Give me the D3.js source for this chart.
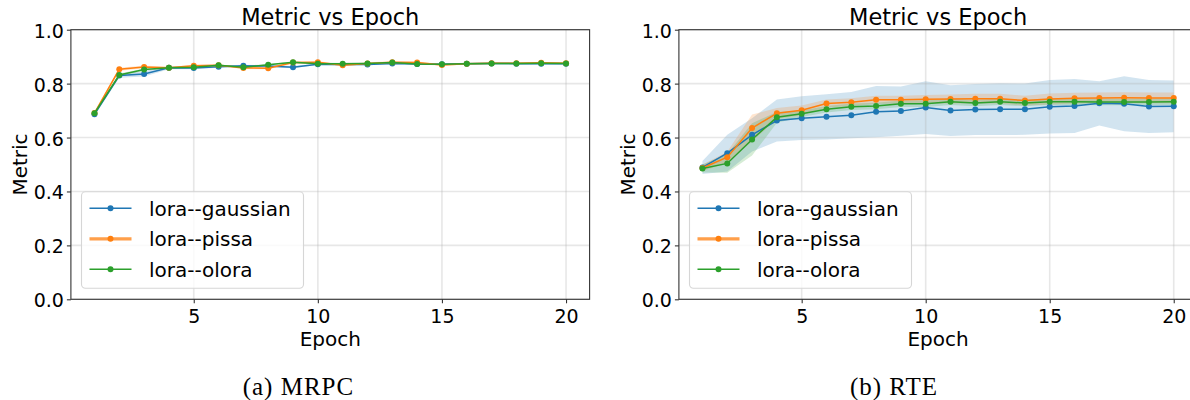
<!doctype html>
<html lang="en">
<head>
<meta charset="utf-8">
<title>Metric vs Epoch</title>
<script src="https://d3js.org/d3.v7.min.js"></script>
<style>
    body { margin: 0; background: #fff; }
    svg text { font-family: "DejaVu Sans", sans-serif; fill: #000; }
</style>
</head>
<body>
<script>
    // Shared values
    const epochs  = [1, 2, 3, 4, 5, 6, 7, 8, 9, 10, 11, 12, 13, 14, 15, 16, 17, 18, 19, 20];
    const xTicks  = [5, 10, 15, 20];
    const yTicks  = [0.0, 0.2, 0.4, 0.6, 0.8, 1.0];
    const methods = ["lora--gaussian", "lora--pissa", "lora--olora"];
    const colors  = ["#1f77b4", "#ff7f0e", "#2ca02c"];

    // (a) MRPC - mean and std per epoch
    const mrpcGaussian    = [0.686, 0.830, 0.836, 0.859, 0.858, 0.863, 0.866, 0.865, 0.861, 0.872, 0.871, 0.871, 0.875, 0.873, 0.872, 0.874, 0.875, 0.874, 0.874, 0.874];
    const mrpcPissa       = [0.691, 0.853, 0.862, 0.859, 0.866, 0.868, 0.858, 0.857, 0.878, 0.879, 0.868, 0.875, 0.879, 0.878, 0.869, 0.874, 0.876, 0.876, 0.877, 0.876];
    const mrpcOlora       = [0.690, 0.832, 0.852, 0.859, 0.861, 0.868, 0.861, 0.870, 0.879, 0.874, 0.874, 0.875, 0.878, 0.873, 0.872, 0.874, 0.875, 0.875, 0.876, 0.875];
    const mrpcGaussianStd = [0.004, 0.008, 0.010, 0.006, 0.005, 0.004, 0.004, 0.004, 0.004, 0.003, 0.003, 0.003, 0.003, 0.003, 0.003, 0.003, 0.003, 0.003, 0.003, 0.003];
    const mrpcPissaStd    = [0.004, 0.006, 0.005, 0.003, 0.004, 0.004, 0.004, 0.004, 0.004, 0.004, 0.004, 0.004, 0.004, 0.004, 0.004, 0.003, 0.003, 0.003, 0.003, 0.003];
    const mrpcOloraStd    = [0.003, 0.006, 0.004, 0.003, 0.003, 0.003, 0.003, 0.003, 0.003, 0.003, 0.003, 0.003, 0.003, 0.003, 0.003, 0.003, 0.003, 0.003, 0.003, 0.003];

    // (b) RTE - mean and std per epoch
    const rteGaussian    = [0.489, 0.542, 0.610, 0.663, 0.672, 0.677, 0.683, 0.696, 0.698, 0.711, 0.700, 0.704, 0.705, 0.705, 0.714, 0.717, 0.727, 0.725, 0.715, 0.716];
    const rtePissa       = [0.487, 0.527, 0.635, 0.690, 0.701, 0.726, 0.731, 0.740, 0.740, 0.742, 0.743, 0.744, 0.744, 0.737, 0.743, 0.746, 0.747, 0.748, 0.747, 0.747];
    const rteOlora       = [0.485, 0.504, 0.593, 0.675, 0.688, 0.705, 0.714, 0.717, 0.725, 0.725, 0.733, 0.728, 0.733, 0.728, 0.733, 0.733, 0.732, 0.732, 0.732, 0.733];
    const rteGaussianStd = [0.024, 0.068, 0.062, 0.078, 0.081, 0.084, 0.086, 0.095, 0.091, 0.098, 0.094, 0.095, 0.096, 0.095, 0.099, 0.100, 0.082, 0.102, 0.098, 0.096];
    const rtePissaStd    = [0.012, 0.020, 0.050, 0.020, 0.018, 0.015, 0.015, 0.015, 0.015, 0.016, 0.017, 0.018, 0.018, 0.018, 0.020, 0.020, 0.020, 0.020, 0.020, 0.020];
    const rteOloraStd    = [0.015, 0.035, 0.060, 0.020, 0.012, 0.012, 0.012, 0.012, 0.012, 0.012, 0.012, 0.012, 0.012, 0.012, 0.012, 0.012, 0.012, 0.012, 0.012, 0.012];

    const svg = d3.select("body").append("svg")
        .attr("width", 1190)
        .attr("height", 400);

    const yTop = 29.7, yBottom = 299.3;

    function drawPanel(left, right, means, stds, caption, captionX)
    {
        const x = d3.scaleLinear().domain([0.05, 20.95]).range([left, right]);
        const y = d3.scaleLinear().domain([0, 1]).range([yBottom, yTop]);
        const g = svg.append("g");

        const series = methods.map((name, i) => ({
            name: name, color: colors[i],
            pts: epochs.map((e, j) => ({ e: e, m: means[i][j], s: stds[i][j] }))
        }));

        // std bands (below everything else)
        series.forEach(s => {
            g.append("path")
                .datum(s.pts)
                .attr("fill", s.color)
                .attr("fill-opacity", 0.2)
                .attr("d", d3.area()
                    .x(d => x(d.e))
                    .y0(d => y(d.m - d.s))
                    .y1(d => y(d.m + d.s)));
        });

        // grid
        g.selectAll(null).data(xTicks).enter().append("line")
            .attr("x1", d => x(d)).attr("x2", d => x(d))
            .attr("y1", yTop).attr("y2", yBottom)
            .attr("stroke", "#b0b0b0").attr("stroke-opacity", 0.3).attr("stroke-width", 1.6);
        g.selectAll(null).data(yTicks).enter().append("line")
            .attr("x1", left).attr("x2", right)
            .attr("y1", d => y(d)).attr("y2", d => y(d))
            .attr("stroke", "#b0b0b0").attr("stroke-opacity", 0.3).attr("stroke-width", 1.6);

        // lines + markers
        series.forEach(s => {
            g.append("path")
                .datum(s.pts)
                .attr("fill", "none")
                .attr("stroke", s.color)
                .attr("stroke-width", 1.5)
                .attr("d", d3.line().x(d => x(d.e)).y(d => y(d.m)));
            g.selectAll(null).data(s.pts).enter().append("circle")
                .attr("cx", d => x(d.e))
                .attr("cy", d => y(d.m))
                .attr("r", 3)
                .attr("fill", s.color);
        });

        // axes
        const xAxis = g.append("g")
            .attr("transform", `translate(0,${yBottom})`)
            .call(d3.axisBottom(x).tickValues(xTicks).tickSize(4).tickFormat(d3.format("d")));
        xAxis.selectAll("text").attr("y", 23.4).attr("dy", 0).style("font-size", "19px");

        const yAxis = g.append("g")
            .attr("transform", `translate(${left},0)`)
            .call(d3.axisLeft(y).tickValues(yTicks).tickSize(4).tickPadding(3).tickFormat(d3.format(".1f")));
        yAxis.selectAll("text").attr("dy", 7.5).style("font-size", "19px");

        [xAxis, yAxis].forEach(a => {
            a.select(".domain").remove();
            a.selectAll("line").attr("stroke", "#333").attr("stroke-width", 1.1);
            a.attr("font-family", null);
        });

        // spines
        g.append("rect")
            .attr("x", left).attr("y", yTop)
            .attr("width", right - left).attr("height", yBottom - yTop)
            .attr("fill", "none").attr("stroke", "#333").attr("stroke-width", 1.1);

        // titles and labels
        g.append("text")
            .attr("x", (left + right) / 2).attr("y", 25)
            .attr("text-anchor", "middle").style("font-size", "22.5px")
            .text("Metric vs Epoch");
        g.append("text")
            .attr("x", (left + right) / 2).attr("y", 345.7)
            .attr("text-anchor", "middle").style("font-size", "20px")
            .text("Epoch");
        g.append("text")
            .attr("transform", `translate(${left - 44.4},${(yTop + yBottom) / 2}) rotate(-90)`)
            .attr("text-anchor", "middle").style("font-size", "20px")
            .text("Metric");

        // legend
        const lx = left + 10.6, ly = 191.7;
        g.append("rect")
            .attr("x", lx).attr("y", ly)
            .attr("width", 222).attr("height", 96.6)
            .attr("rx", 4)
            .attr("fill", "#fff").attr("fill-opacity", 0.8)
            .attr("stroke", "#d6d6d6").attr("stroke-width", 1.1);
        series.forEach((s, i) => {
            const cy = ly + 16.6 + i * 30.5;
            g.append("line")
                .attr("x1", lx + 8).attr("x2", lx + 50)
                .attr("y1", cy).attr("y2", cy)
                .attr("stroke", s.color)
                .attr("stroke-width", i === 1 ? 3.2 : 1.5)
                .attr("stroke-opacity", i === 1 ? 0.75 : 1);
            g.append("circle")
                .attr("cx", lx + 29).attr("cy", cy).attr("r", 3)
                .attr("fill", s.color);
            g.append("text")
                .attr("x", lx + 67.5).attr("y", cy + 7.2)
                .style("font-size", "20px")
                .text(s.name);
        });

        // sub caption
        svg.append("text")
            .attr("x", captionX).attr("y", 395)
            .attr("text-anchor", "middle")
            .style("font-family", "'Liberation Serif', 'DejaVu Serif', serif")
            .style("font-size", "25px")
            .style("letter-spacing", "1px")
            .text(caption);
    }

    drawPanel(70.9, 589.6,
        [mrpcGaussian, mrpcPissa, mrpcOlora],
        [mrpcGaussianStd, mrpcPissaStd, mrpcOloraStd],
        "(a) MRPC", 298.4);

    drawPanel(678.9, 1197.3,
        [rteGaussian, rtePissa, rteOlora],
        [rteGaussianStd, rtePissaStd, rteOloraStd],
        "(b) RTE", 894);
</script>
</body>
</html>
